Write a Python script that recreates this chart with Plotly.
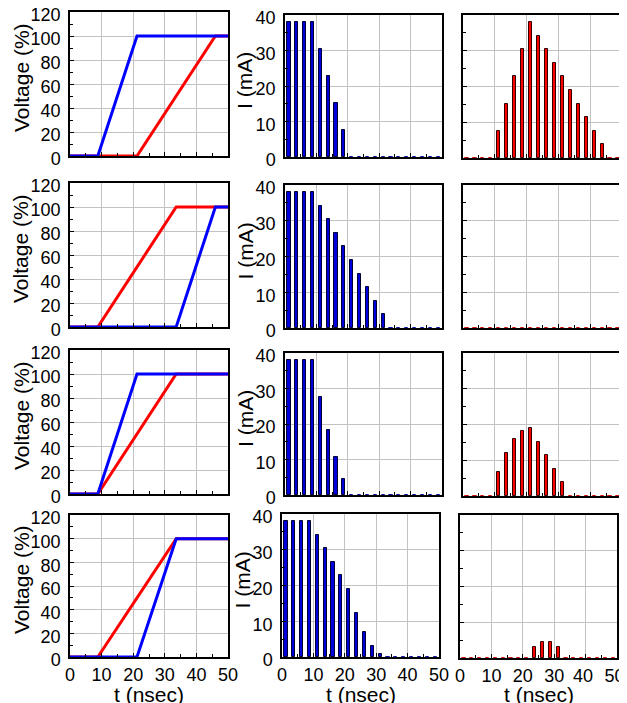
import plotly.graph_objects as go

# ---------------- data ----------------
# voltage waveforms (time in ns, voltage in %)
v_time_r1_blue = [0, 8.8, 21.2, 50]
v_val_r1_blue = [0, 0, 100, 100]
v_time_r1_red = [0, 21.2, 46, 50]
v_val_r1_red = [0, 0, 100, 100]

v_time_r2_blue = [0, 33.6, 46, 50]
v_val_r2_blue = [0, 0, 100, 100]
v_time_r2_red = [0, 8.8, 33.6, 50]
v_val_r2_red = [0, 0, 100, 100]

v_time_r3_blue = [0, 8.8, 21.2, 50]
v_val_r3_blue = [0, 0, 100, 100]
v_time_r3_red = [0, 8.8, 33.6, 50]
v_val_r3_red = [0, 0, 100, 100]

v_time_r4_blue = [0, 21.2, 33.6, 50]
v_val_r4_blue = [0, 0, 100, 100]
v_time_r4_red = [0, 8.8, 33.6, 50]
v_val_r4_red = [0, 0, 100, 100]

# current sample times (ns)
t_bins = [1.25, 3.75, 6.25, 8.75, 11.25, 13.75, 16.25, 18.75, 21.25, 23.75,
          26.25, 28.75, 31.25, 33.75, 36.25, 38.75, 41.25, 43.75, 46.25, 48.75]

# blue currents (mA)
i_blue_r1 = [38, 38, 38, 38, 30.4, 22.8, 15.2, 7.6, 0, 0, 0, 0, 0, 0, 0, 0, 0, 0, 0, 0]
i_blue_r2 = [38, 38, 38, 38, 34.2, 30.4, 26.6, 22.8, 19.0, 15.2, 11.4, 7.6, 3.8, 0, 0, 0, 0, 0, 0, 0]
i_blue_r3 = [38, 38, 38, 38, 27.5, 18.4, 10.7, 4.6, 0, 0, 0, 0, 0, 0, 0, 0, 0, 0, 0, 0]
i_blue_r4 = [38, 38, 38, 38, 34.2, 30.4, 26.6, 22.8, 19.0, 12.2, 7.1, 3.1, 0.8, 0, 0, 0, 0, 0, 0, 0]

# red currents (mA)
i_red_r1 = [0, 0, 0, 0, 7.6, 15.2, 22.8, 30.4, 38, 34.2, 30.4, 26.6, 22.8, 19.0, 15.2, 11.4, 7.6, 3.8, 0, 0]
i_red_r2 = [0, 0, 0, 0, 0, 0, 0, 0, 0, 0, 0, 0, 0, 0, 0, 0, 0, 0, 0, 0]
i_red_r3 = [0, 0, 0, 0, 6.7, 12.0, 15.9, 18.2, 19.0, 15.2, 11.4, 7.6, 3.8, 0, 0, 0, 0, 0, 0, 0]
i_red_r4 = [0, 0, 0, 0, 0, 0, 0, 0, 0, 3.0, 4.5, 4.5, 3.0, 0, 0, 0, 0, 0, 0, 0]

x_ticks = [0, 10, 20, 30, 40, 50]
x_ticktext = ["0", "10", "20", "30", "40", "50"]
x_ticktext_right = ["0", "10", "20", "30", "40\u00a0", "50\u00a0"]
v_ticks = [0, 20, 40, 60, 80, 100, 120]
i_ticks = [0, 10, 20, 30, 40]

# ---------------- layout geometry (window pixels) ----------------
# the page body has an 8px default margin, so the figure is drawn 8px in from the window corner
OFF = 8
WIN_W, WIN_H = 627, 703
W, H = WIN_W - OFF, WIN_H - OFF
col_x = {
    1: [(70, 228)] * 4,
    2: [(285, 442), (285, 442), (285, 442), (282, 439)],
    3: [(463, 622), (463, 622), (463, 622), (460, 617)],
}
col_y = {
    1: [(12, 156), (183, 327), (350, 494), (515, 657)],
    2: [(15, 157), (185, 328), (353, 495), (514, 657)],
    3: [(15, 158), (185, 328), (353, 496), (515, 658)],
}


def px(xw):
    return (xw - OFF) / W


def py(yw):
    return 1 - (yw - OFF) / H


BLUE = "#0000ff"
RED = "#ff0000"
BAR_BLUE = "#0000dd"
FONT = "Liberation Sans, Arial, sans-serif"
TICK_SIZE = 18
TITLE_SIZE = 21

fig = go.Figure()

volt = [
    (v_time_r1_red, v_val_r1_red, v_time_r1_blue, v_val_r1_blue),
    (v_time_r2_red, v_val_r2_red, v_time_r2_blue, v_val_r2_blue),
    (v_time_r3_red, v_val_r3_red, v_time_r3_blue, v_val_r3_blue),
    (v_time_r4_red, v_val_r4_red, v_time_r4_blue, v_val_r4_blue),
]
blues = [i_blue_r1, i_blue_r2, i_blue_r3, i_blue_r4]
reds = [i_red_r1, i_red_r2, i_red_r3, i_red_r4]

annotations = []


def axis_name(idx):
    return "" if idx == 1 else str(idx)


for r in range(4):
    for c in range(1, 4):
        idx = r * 3 + c
        xn = "x" + axis_name(idx)
        yn = "y" + axis_name(idx)
        x0, x1 = col_x[c][r]
        y0, y1 = col_y[c][r]
        bottom = r == 3
        common = dict(
            showline=True, linecolor="black", linewidth=1.5, mirror=True,
            showgrid=True, gridcolor="#c2c2c2", gridwidth=1.3,
            ticks="inside", ticklen=4, tickcolor="black", tickwidth=1,
            zeroline=False, automargin=False, ticklabeloverflow="allow",
            tickfont=dict(family=FONT, size=TICK_SIZE, color="black"),
        )
        xa = dict(common, domain=[px(x0), px(x1)], range=[0, 50], tickmode="array",
                  tickvals=x_ticks, ticktext=(x_ticktext_right if c == 3 else x_ticktext),
                  showticklabels=bottom, anchor=yn, ticklabelstandoff=1,
                  minor=dict(ticks="inside", ticklen=3, tickcolor="black", dtick=5, showgrid=False))
        if c == 1:
            yrange, yt = [0, 120], v_ticks
            ydt = 10
        else:
            yrange, yt = [0, 40], i_ticks
            ydt = 5
        ya = dict(common, domain=[py(y1), py(y0)], range=yrange, tickvals=yt,
                  showticklabels=(c != 3), anchor=xn, ticklabelstandoff=4, ticklabelshift=3,
                  minor=dict(ticks="inside", ticklen=3, tickcolor="black", dtick=ydt, showgrid=False))
        fig.layout["xaxis" + axis_name(idx)] = xa
        fig.layout["yaxis" + axis_name(idx)] = ya

        if c == 1:
            tr, vr, tb, vb = volt[r]
            fig.add_trace(go.Scatter(x=tr, y=vr, mode="lines", line=dict(color=RED, width=3),
                                     xaxis=xn, yaxis=yn, showlegend=False))
            fig.add_trace(go.Scatter(x=tb, y=vb, mode="lines", line=dict(color=BLUE, width=3),
                                     xaxis=xn, yaxis=yn, showlegend=False))
            annotations.append(dict(text="Voltage (%)", x=px(21), y=py((y0 + y1) / 2 - 6),
                                    xref="paper", yref="paper", showarrow=False, textangle=-90,
                                    font=dict(family=FONT, size=TITLE_SIZE, color="black"),
                                    xanchor="center", yanchor="middle"))
        elif c == 2:
            vals = blues[r]
            lc = ["#000033" if v > 0 else "#1010a0" for v in vals]
            fig.add_trace(go.Bar(x=t_bins, y=vals, width=1.0, marker=dict(color=BAR_BLUE,
                                 line=dict(color=lc, width=1)),
                                 xaxis=xn, yaxis=yn, showlegend=False))
            annotations.append(dict(text="I (mA)", x=px(x0 - 40), y=py((y0 + y1) / 2 - 5),
                                    xref="paper", yref="paper", showarrow=False, textangle=-90,
                                    font=dict(family=FONT, size=TITLE_SIZE, color="black"),
                                    xanchor="center", yanchor="middle"))
        else:
            vals = reds[r]
            lc = ["#330000" if v > 0 else "#d01010" for v in vals]
            fig.add_trace(go.Bar(x=t_bins, y=vals, width=1.0, marker=dict(color=RED,
                                 line=dict(color=lc, width=1)),
                                 xaxis=xn, yaxis=yn, showlegend=False))
        if bottom:
            annotations.append(dict(text="t (nsec)", x=px((x0 + x1) / 2), y=py(694),
                                    xref="paper", yref="paper", showarrow=False,
                                    font=dict(family=FONT, size=TITLE_SIZE, color="black"),
                                    xanchor="center", yanchor="middle"))

fig.update_layout(
    width=W, height=H,
    margin=dict(l=0, r=0, t=0, b=0, autoexpand=False),
    paper_bgcolor="white", plot_bgcolor="white",
    bargap=0, barmode="overlay",
    annotations=annotations,
    font=dict(family=FONT, color="black"),
)

fig.write_html("out.html")
